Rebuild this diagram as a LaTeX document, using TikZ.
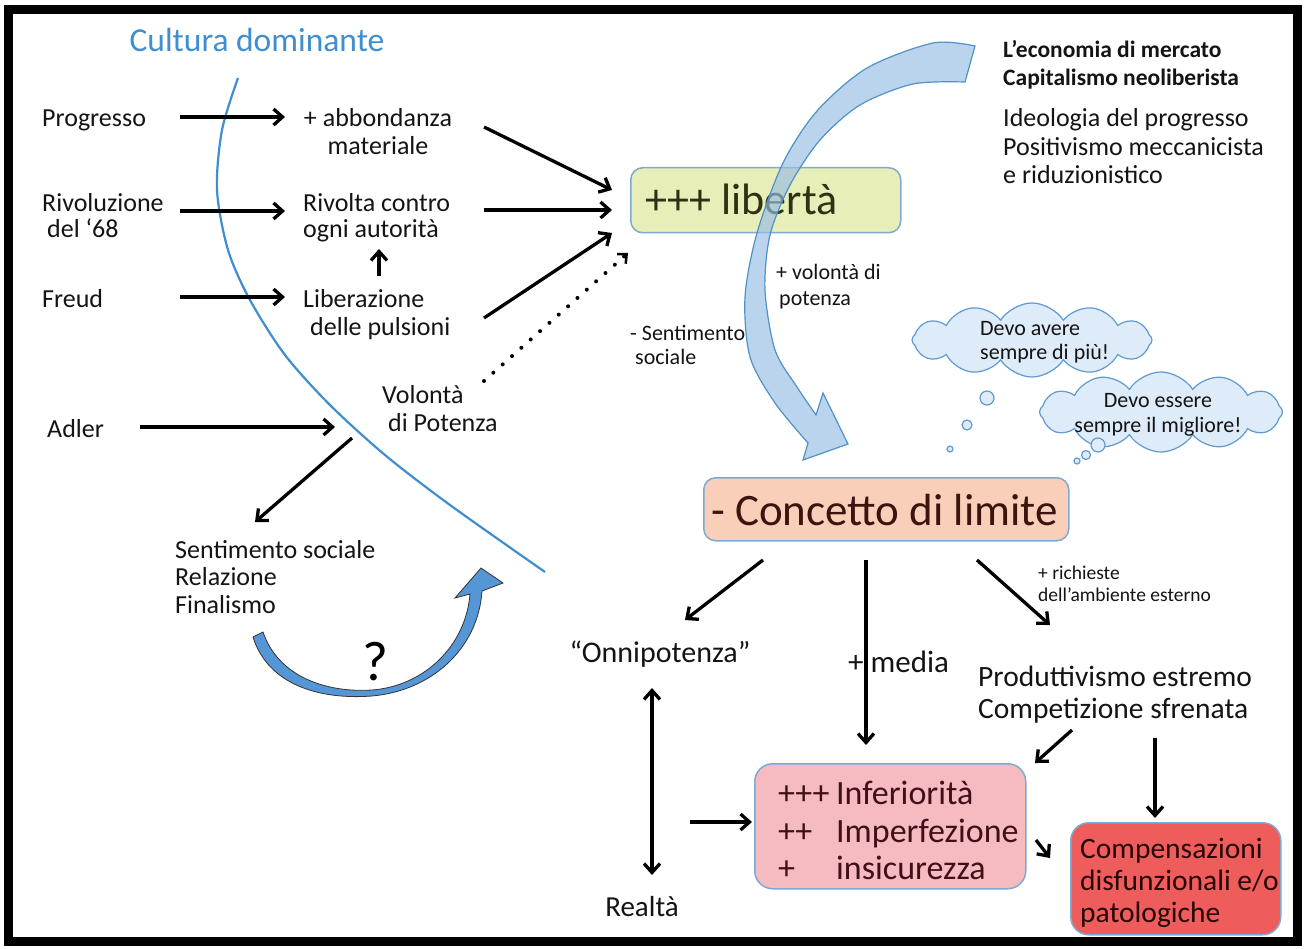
\documentclass[tikz,border=0pt]{standalone}
\usepackage{fontspec}
\setmainfont{Carlito}
\usetikzlibrary{arrows.meta,shapes.symbols}
\definecolor{cblue}{RGB}{62,142,208}
\definecolor{boxblue}{RGB}{125,170,210}
\definecolor{libfill}{RGB}{232,238,183}
\definecolor{concfill}{RGB}{250,207,185}
\definecolor{inffill}{RGB}{245,187,192}
\definecolor{compfill}{RGB}{238,92,92}
\definecolor{bigfill}{RGB}{150,190,228}
\definecolor{bigdraw}{RGB}{80,145,200}
\definecolor{cloudfill}{RGB}{222,235,248}
\definecolor{clouddraw}{RGB}{95,155,210}
\definecolor{qfill}{RGB}{85,150,215}
\definecolor{libtext}{RGB}{45,50,20}
\definecolor{conctext}{RGB}{60,20,15}
\definecolor{inftext}{RGB}{65,15,25}
\definecolor{comptext}{RGB}{40,5,5}
\newcommand{\fsz}[2]{\fontsize{#1}{#2}\selectfont}
\begin{document}
\begin{tikzpicture}[x=1pt,y=-1pt,
  txt/.style={inner sep=0pt, text=black!92, anchor=base west},
  arr/.style={line width=3.3pt, -{Straight Barb[length=9pt,width=16pt]}},
  darr/.style={line width=3.3pt, {Straight Barb[length=9pt,width=16pt]}-{Straight Barb[length=9pt,width=16pt]}},
  dotarr/.style={line width=4pt, line cap=round, dash pattern=on 0pt off 12.5pt, -{Straight Barb[length=7pt,width=13pt,line width=2.5pt]}},
  boxshape/.style={draw=boxblue, line width=1.5pt, rounded corners=12pt, inner sep=0pt, anchor=north west},
  cloudshape/.style={cloud, cloud puffs=12, cloud puff arc=115, aspect=3, draw=clouddraw, fill=cloudfill, line width=1.2pt, inner sep=0pt},
  bubble/.style={draw=clouddraw, fill=cloudfill, line width=1.2pt}
]
\fill[white] (0,0) rectangle (1306,949);
\useasboundingbox (0,0) rectangle (1306,949);

% --- culture arc
\draw[cblue, line width=2.2pt] plot[smooth] coordinates {(238,78) (222,130) (217,190) (228,250) (250,300) (285,355) (330,405) (385,455) (450,505) (545,572)};
\node[inner sep=0pt, text=cblue, font=\fsz{33.5}{36}] (cultura) at (257,40) {Cultura dominante};

% --- left texts
\node[txt, font=\fsz{26}{27.5}] (prog) at (42,127) {Progresso};
\node[txt, align=left, font=\fsz{26}{26}] (rivo) at (42,238) {Rivoluzione\\\hspace*{5pt}del ‘68};
\node[txt, font=\fsz{26}{27.5}] (freud) at (42,308) {Freud};
\node[txt, font=\fsz{26}{27.5}] (adler) at (47,437) {Adler};
\node[txt, anchor=base, align=center, font=\fsz{26}{28}] (abb) at (378,155) {+ abbondanza\\materiale};
\node[txt, align=left, font=\fsz{26}{26}] (rivolta) at (303,238) {Rivolta contro\\ogni autorità};
\node[txt, align=left, font=\fsz{26}{28}] (liber) at (303,336) {Liberazione\\\hspace*{7pt}delle pulsioni};
\node[txt, align=left, font=\fsz{26}{28}] (volonta) at (382,431) {Volontà\\\hspace*{6pt}di Potenza};
\node[txt, align=left, font=\fsz{26}{27.5}] (sent) at (175,613) {Sentimento sociale\\Relazione\\Finalismo};

% --- question arrow
\draw[black!80, fill=qfill, line width=0.8pt] (253,637) .. controls (268,685) and (320,700) .. (372,696) .. controls (430,691) and (478,650) .. (482,591) -- (503,583) -- (481,568) -- (455,598) -- (470,594) .. controls (466,645) and (425,686) .. (372,690) .. controls (325,693) and (278,676) .. (263,632) -- cycle;
\node[inner sep=0pt, font=\fsz{56}{60}] (qm) at (375,662) {?};

% --- libertà box
\node[boxshape, fill=libfill, minimum width=270pt, minimum height=65pt] (lib) at (630,167) {};
\node[txt, text=libtext, font=\fsz{44}{48}] (libt) at (645,215) {+++ libertà};

% --- top right texts
\node[txt, align=left, font=\bfseries\fsz{23.5}{28}] (econ) at (1003,86) {L’economia di mercato\\Capitalismo neoliberista};
\node[txt, align=left, font=\fsz{26}{28.5}] (ideo) at (1003,184) {Ideologia del progresso\\Positivismo meccanicista\\e riduzionistico};

% --- big blue arrow
\filldraw[fill=bigfill, fill opacity=0.65, draw=bigdraw, line width=1.2pt]
  plot[smooth] coordinates {(975,46) (933,43) (867,68) (817,111) (783,163) (757,233) (745,297) (750,357) (775,403) (808,443)}
  -- (803,460) -- (848,444) -- (823,393) --
  plot[smooth] coordinates {(816,415) (797,387) (775,350) (765,290) (770,235) (790,185) (820,140) (860,105) (913,84) (965,82)}
  -- cycle;

\node[txt, align=left, font=\fsz{22}{26}] (volp) at (776,305.5) {+ volontà di\\\hspace*{3pt}potenza};
\node[txt, align=left, font=\fsz{22}{24}] (sents) at (630,364.5) {- Sentimento\\\hspace*{5pt}sociale};

% --- clouds
\node[cloudshape, minimum width=240pt, minimum height=74pt] (c1) at (1032,340) {};
\node[txt, align=left, font=\fsz{22}{24}] (c1t) at (980,359.5) {Devo avere\\sempre di più!};
\draw[bubble] (987,398) circle (7);
\draw[bubble] (967,425) circle (5);
\draw[bubble] (950,449) circle (3);
\node[cloudshape, minimum width=243pt, minimum height=80pt] (c2) at (1161,412) {};
\node[txt, anchor=base, align=center, font=\fsz{22}{25}] (c2t) at (1158,432.5) {Devo essere\\sempre il migliore!};
\draw[bubble] (1098,445) circle (7);
\draw[bubble] (1086,455) circle (4.5);
\draw[bubble] (1077,461) circle (3);

% --- concetto box
\node[boxshape, fill=concfill, minimum width=365pt, minimum height=63pt] (conc) at (703,477) {};
\node[txt, text=conctext, font=\fsz{45}{48}] (conct) at (711,525) {- Concetto di limite};

% --- lower texts
\node[txt, anchor=base, font=\fsz{30}{32}] (onni) at (660,662) {“Onnipotenza”};
\node[txt, anchor=base, font=\fsz{29}{32}] (realta) at (642,916) {Realtà};
\node[txt, font=\fsz{31}{33}] (media) at (848,672) {+ media};
\node[txt, align=left, font=\fsz{19.5}{22}] (rich) at (1038,601) {+ richieste\\dell’ambiente esterno};
\node[txt, align=left, font=\fsz{29.5}{32}] (prod) at (978,718) {Produttivismo estremo\\Competizione sfrenata};

% --- inferiorità box
\node[boxshape, rounded corners=18pt, fill=inffill, minimum width=271pt, minimum height=125pt] (inf) at (754,763) {};
\node[txt, align=left, text=inftext, font=\fsz{34}{37.5}] (inft) at (778,879.5) {\makebox[58pt][l]{+++}Inferiorità\\\makebox[58pt][l]{++}Imperfezione\\\makebox[58pt][l]{+}insicurezza};

% --- compensazioni box
\node[boxshape, rounded corners=18pt, fill=compfill, minimum width=210pt, minimum height=112pt] (comp) at (1070,822) {};
\node[txt, align=left, text=comptext, font=\fsz{29.5}{32}] (compt) at (1080,922) {Compensazioni\\disfunzionali e/o\\patologiche};

% --- connector end points
\coordinate (p1) at (180,117); \coordinate (p2) at (285,117);
\coordinate (r1) at (180,211); \coordinate (r2) at (285,211);
\coordinate (f1) at (180,297); \coordinate (f2) at (285,297);
\coordinate (ad1) at (140,427); \coordinate (ad2) at (335,427);
\coordinate (v1) at (352,438); \coordinate (v2) at (255,522);
\coordinate (lr1) at (379,276); \coordinate (lr2) at (379,249);
\coordinate (ab1) at (484,127); \coordinate (ab2) at (612,190);
\coordinate (rv1) at (484,210); \coordinate (rv2) at (612,210);
\coordinate (lb1) at (484,318); \coordinate (lb2) at (612,233);
\coordinate (vd1) at (484,381); \coordinate (vd2) at (628,253);
\coordinate (co1) at (763,560); \coordinate (co2) at (685,620);
\coordinate (cm1) at (866,560); \coordinate (cm2) at (866,745);
\coordinate (cp1) at (977,560); \coordinate (cp2) at (1050,625);
\coordinate (or1) at (652,688); \coordinate (or2) at (652,875);
\coordinate (ri1) at (690,822); \coordinate (ri2) at (752,822);
\coordinate (pi1) at (1072,730); \coordinate (pi2) at (1035,763);
\coordinate (pc1) at (1155,738); \coordinate (pc2) at (1155,818);
\coordinate (ic1) at (1036,840); \coordinate (ic2) at (1050,858);

\draw[arr] (p1) -- (p2);
\draw[arr] (r1) -- (r2);
\draw[arr] (f1) -- (f2);
\draw[arr] (ad1) -- (ad2);
\draw[arr] (v1) -- (v2);
\draw[arr] (lr1) -- (lr2);
\draw[arr] (ab1) -- (ab2);
\draw[arr] (rv1) -- (rv2);
\draw[arr] (lb1) -- (lb2);
\draw[dotarr] (vd1) -- (vd2);
\draw[arr] (co1) -- (co2);
\draw[arr] (cm1) -- (cm2);
\draw[arr] (cp1) -- (cp2);
\draw[darr] (or1) -- (or2);
\draw[arr] (ri1) -- (ri2);
\draw[arr] (pi1) -- (pi2);
\draw[arr] (pc1) -- (pc2);
\draw[arr] (ic1) -- (ic2);

% --- frame
\draw[black, line width=9pt] (8.5,9.5) rectangle (1297.5,941.5);
\end{tikzpicture}
\end{document}
